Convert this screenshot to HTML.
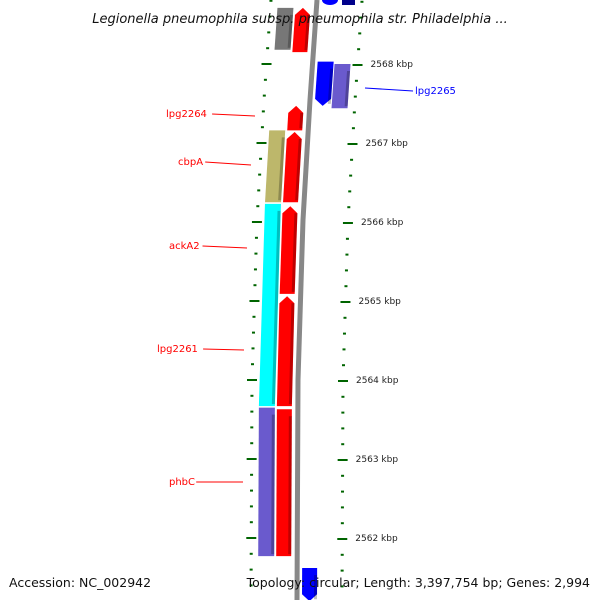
<!DOCTYPE html>
<html><head><meta charset="utf-8"><style>
body{margin:0;background:#fff;width:600px;height:600px;overflow:hidden}
svg{display:block;font-family:"DejaVu Sans","Liberation Sans",sans-serif}
</style></head><body>
<svg id="map" width="600" height="600" viewBox="0 0 600 600" xmlns="http://www.w3.org/2000/svg"></svg>
<script>
const geneNames = ["red-a","lpg2264","cbpA","ackA2","lpg2261","phbC","gray-a","olive-a","cyan-a","slate-a","blue-a","lpg2265","blue-c"];
const geneStart = [2568.71,2567.47,2567.14,2566.20,2565.06,2563.63,2568.71,2567.16,2566.23,2563.65,2568.03,2568.00,2561.62];
const geneEnd   = [2568.15,2567.16,2566.25,2565.09,2563.67,2561.77,2568.18,2566.25,2563.67,2561.77,2567.47,2567.44,2561.20];
const geneTrack = [-1,-1,-1,-1,-1,-1,-2,-2,-2,-2,1,2,0];
const geneColor = ["#ff0000","#ff0000","#ff0000","#ff0000","#ff0000","#ff0000","#777777","#bdb76b","#00ffff","#6a5acd","#0000ff","#6a5acd","#0000ff"];
const geneArrow = ["up","up","up","up","up","none","none","none","none","none","down","none","down"];
const tickLabels = [2568,2567,2566,2565,2564,2563,2562];
const labels = [["lpg2264",166,113,255,116,"red"],["cbpA",178,161,251,165,"red"],["ackA2",169,245,247,248,"red"],["lpg2261",157,348,244,350,"red"],["phbC",169,481,243,482,"red"],["lpg2265",415,90,365,88,"blue"]];
const NS="http://www.w3.org/2000/svg";
const svg=document.getElementById('map');
function yOf(k){return 143+(2567-k)*79;}
const bb=[[0,317],[100,310],[220,303],[380,298],[600,297]];
function bx(y){for(let i=0;i<bb.length-1;i++){if(y<=bb[i+1][0]){const t=(y-bb[i][0])/(bb[i+1][0]-bb[i][0]);return bb[i][1]+t*(bb[i+1][1]-bb[i][1]);}}return 297;}
function el(t,a){const e=document.createElementNS(NS,t);for(const k in a)e.setAttribute(k,a[k]);svg.appendChild(e);return e;}
const trackOff={"-2":[-39,-23],"-1":[-21,-6],"0":[5,20],"1":[5,21],"2":[22,38]};
let d="";for(let y=0;y<=600;y+=10)d+=(y?"L":"M")+bx(y)+","+y;
let b=el('path',{d:d,stroke:'#888',fill:'none','stroke-width':5});

for(let k=2561.2;k<=2568.8;k+=0.2){
  const kk=Math.round(k*10)/10;const y=yOf(kk);if(y<0||y>600)continue;
  const major=Math.abs(kk-Math.round(kk))<0.01;
  const lx=bx(y)-46,rx=bx(y)+45;const w=major?5:1.5;
  let t1=el('line',{x1:lx-w,x2:lx+w,y1:y,y2:y,stroke:'#006400','stroke-width':2});
  
  let t2=el('line',{x1:rx-w,x2:rx+w,y1:y+1,y2:y+1,stroke:'#006400','stroke-width':2});
  
}
tickLabels.forEach(k=>{const y=yOf(k);
  const t=el('text',{x:bx(y)+58,y:y+3,'font-size':9,fill:'#222'});t.textContent=k+" kbp";
  });
geneNames.forEach((n,i)=>{
  const y1=yOf(geneStart[i]),y2=yOf(geneEnd[i]);const o=trackOff[geneTrack[i]];
  const top=Math.max(y1,-5),bot=y2;
  const tip=7;
  const pts=[];const a=geneArrow[i];
  const xl=y=>bx(y)+o[0],xr=y=>bx(y)+o[1];
  if(a==="up"){pts.push([xl(top+tip),top+tip],[(xl(top)+xr(top))/2,top],[xr(top+tip),top+tip],[xr(bot),bot],[xl(bot),bot]);}
  else if(a==="down"){pts.push([xl(top),top],[xr(top),top],[xr(bot-tip),bot-tip],[(xl(bot)+xr(bot))/2,bot],[xl(bot-tip),bot-tip]);}
  else pts.push([xl(top),top],[xr(top),top],[xr(bot),bot],[xl(bot),bot]);
  const p=el('polygon',{points:pts.map(q=>q.join(',')).join(' '),fill:geneColor[i]});
  
  const s=el('polygon',{points:[[xr(top+tip)-3,top+tip],[xr(top+tip),top+tip],[xr(bot-2),bot-2],[xr(bot-2)-3,bot-2]].map(q=>q.join(',')).join(' '),fill:'#000',opacity:0.25});
  
});
let c1=el('ellipse',{cx:330,cy:0,rx:8,ry:5,fill:'#0000ff'});
let c2=el('rect',{x:342,y:0,width:13,height:5,fill:'#00008b'});
labels.forEach(l=>{
  const isR=l[0]==="lpg2265";
  const ln=el('line',{x1:isR?l[3]:l[1]+(l[0].length*6.3)+2,y1:isR?l[4]:l[2]+1,x2:isR?413:l[3],y2:isR?91:l[4],stroke:l[5],'stroke-width':1});
  
  const t=el('text',{x:l[1],y:l[2]+4,'font-size':10,fill:l[5]});t.textContent=l[0];
  
});
const tt=el('text',{x:300,y:23,'font-size':13,'font-style':'italic','text-anchor':'middle',fill:'#111'});
tt.textContent="Legionella pneumophila subsp. pneumophila str. Philadelphia ...";

const fa=el('text',{x:9,y:587,'font-size':12.5,fill:'#111'});fa.textContent="Accession: NC_002942";

const fb=el('text',{x:590,y:587,'font-size':12.5,'text-anchor':'end',fill:'#111'});fb.textContent="Topology: circular; Length: 3,397,754 bp; Genes: 2,994";

</script>
</body></html>
